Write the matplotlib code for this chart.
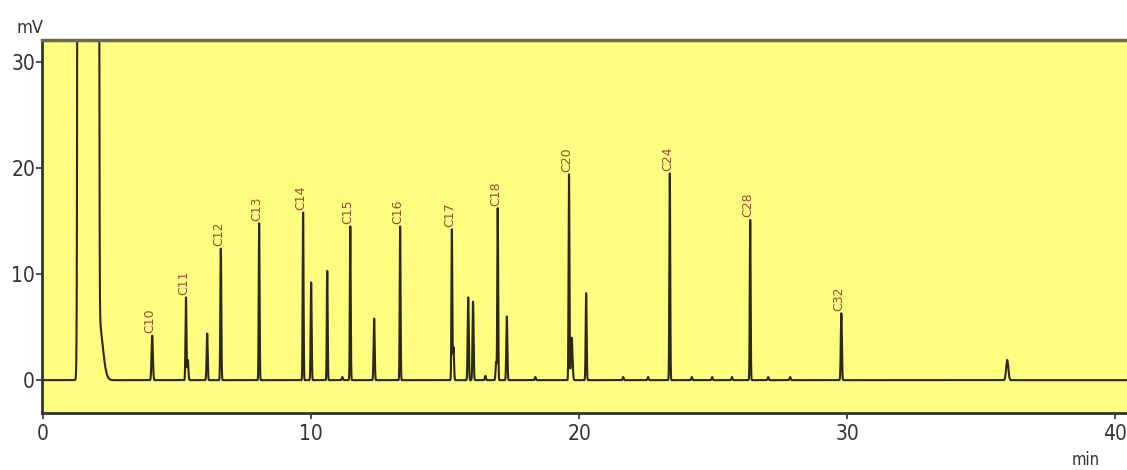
import numpy as np
import matplotlib
matplotlib.use('Agg')
import matplotlib.pyplot as plt

plt.rcParams['font.family'] = ['DejaVu Sans']
plt.rcParams['font.stretch'] = 'condensed'

# peak table: retention time (min), height (mV), width (min)
peak_times = [1.68, 2.09, 2.08, 4.07, 5.33, 5.40, 6.12, 6.63, 8.06, 9.70, 10.00, 10.60,
              11.16, 11.46, 12.35, 13.32, 15.25, 15.31, 15.86, 16.04, 16.50, 16.90, 16.96,
              17.30, 18.36, 19.62, 19.72, 20.26, 21.64, 22.57, 23.38, 24.20, 24.96, 25.70,
              26.38, 27.05, 27.87, 29.78, 35.97]
peak_heights = [7.0e8, 13.0, 5.5, 4.2, 7.8, 1.9, 4.4, 12.4, 14.8, 15.8, 9.2, 10.3,
                0.3, 14.5, 5.8, 14.5, 14.2, 3.1, 7.8, 7.4, 0.4, 1.7, 16.2,
                6.0, 0.3, 19.4, 4.0, 8.2, 0.3, 0.3, 19.5, 0.3, 0.3, 0.3,
                15.1, 0.3, 0.3, 6.3, 1.9]
peak_widths = [0.0704, 0.012, 0.14, 0.025, 0.018, 0.02, 0.02, 0.018, 0.016, 0.016, 0.018, 0.016,
               0.02, 0.016, 0.02, 0.016, 0.016, 0.02, 0.02, 0.02, 0.02, 0.02, 0.016,
               0.02, 0.02, 0.016, 0.03, 0.018, 0.02, 0.02, 0.016, 0.02, 0.02, 0.02,
               0.016, 0.02, 0.02, 0.02, 0.04]

# named peaks
label_names = ['C10', 'C11', 'C12', 'C13', 'C14', 'C15', 'C16', 'C17', 'C18', 'C20', 'C24', 'C28', 'C32']
label_times = [4.07, 5.33, 6.63, 8.06, 9.70, 11.46, 13.32, 15.25, 16.96, 19.62, 23.38, 26.38, 29.78]
label_heights = [4.2, 7.8, 12.4, 14.8, 15.8, 14.5, 14.5, 14.2, 16.2, 19.4, 19.5, 15.1, 6.3]

t = np.linspace(0, 40.5, 40000)
signal = np.zeros_like(t)
for rt, h, w in zip(peak_times, peak_heights, peak_widths):
    signal += h * np.exp(-0.5 * ((t - rt) / w) ** 2)

fig = plt.figure(figsize=(11.27, 4.70), dpi=100)
ax = fig.add_axes([0.0373, 0.121, 0.963, 0.794])
ax.set_facecolor('#fdfd80')

ax.plot(t, signal, color='#2a2818', linewidth=1.5)

for name, rt, h in zip(label_names, label_times, label_heights):
    ax.text(rt - 0.08, h + 0.25, name, rotation=90, ha='center', va='bottom',
            fontsize=9, color='#a04a30', fontstretch='normal')

ax.set_xlim(-0.04, 40.45)
ax.set_ylim(-3.11, 32.08)
ax.set_xticks([0, 10, 20, 30, 40])
ax.set_yticks([0, 10, 20, 30])

ax.tick_params(direction='out', length=4, width=1.2, colors='#333333',
               labelsize=15, labelcolor='#333333')
ax.tick_params(axis='y', pad=1)
ax.tick_params(axis='x', pad=4)

for side in ['left', 'bottom']:
    ax.spines[side].set_linewidth(2)
    ax.spines[side].set_color('#333333')
ax.spines['top'].set_linewidth(2.5)
ax.spines['top'].set_color('#6a6a55')
ax.spines['right'].set_visible(False)

fig.text(0.015, 0.94, 'mV', fontsize=13, color='#333333', ha='left', va='center')
fig.text(0.963, 0.002, 'min', fontsize=12, color='#333333', ha='center', va='bottom')

fig.savefig('out.png', dpi=100)
